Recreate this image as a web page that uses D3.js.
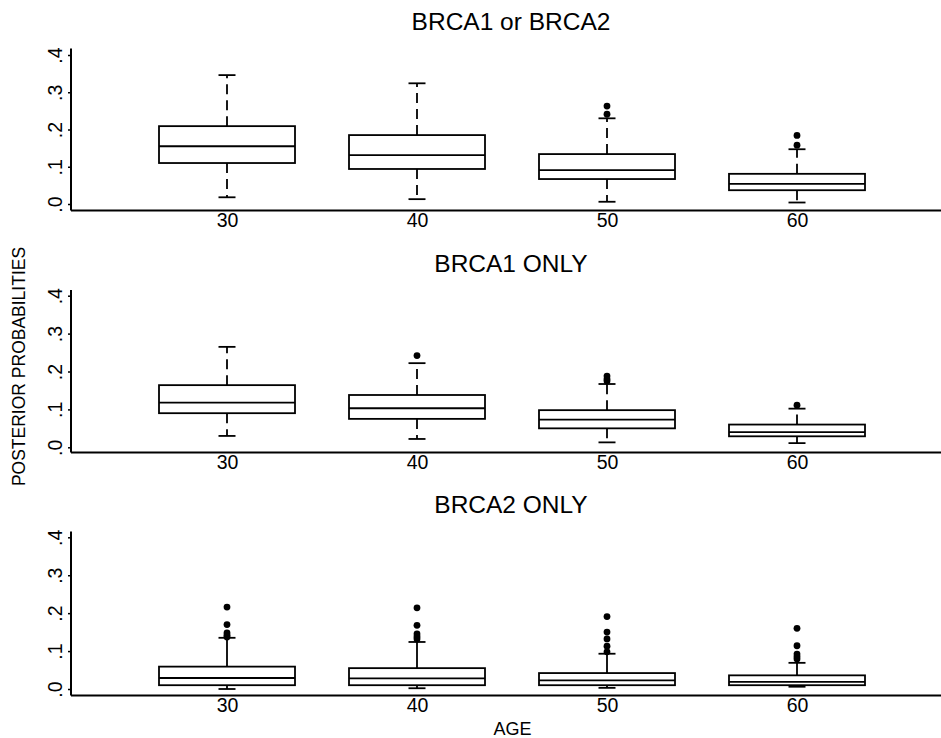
<!DOCTYPE html>
<html>
<head>
<meta charset="utf-8">
<script src="https://cdn.jsdelivr.net/npm/d3@7"></script>
<style>
  body { margin: 0; background: #fff; }
  svg { display: block; }
  text { font-family: "Liberation Sans", Arial, Helvetica, sans-serif; fill: #000; }
</style>
</head>
<body>
<svg id="chart" width="941" height="738"></svg>
<script>
// ---------- DATA ----------
const ages = [30, 40, 50, 60];
const panelTitles = ["BRCA1 or BRCA2", "BRCA1 ONLY", "BRCA2 ONLY"];
const yTicks = [0, 0.1, 0.2, 0.3, 0.4];
const yTickLabels = [".0", ".1", ".2", ".3", ".4"];
const yAxisTitle = "POSTERIOR PROBABILITIES";
const xAxisTitle = "AGE";

// BRCA1 or BRCA2
const eitherLow      = [0.018, 0.013, 0.006, 0.004];
const eitherQ1       = [0.110, 0.094, 0.067, 0.037];
const eitherMedian   = [0.155, 0.131, 0.091, 0.054];
const eitherQ3       = [0.209, 0.185, 0.134, 0.081];
const eitherHigh     = [0.346, 0.324, 0.230, 0.147];
const eitherOutliers = [[], [], [0.263, 0.241], [0.184, 0.158]];

// BRCA1 only
const brca1Low      = [0.030, 0.022, 0.013, 0.011];
const brca1Q1       = [0.090, 0.075, 0.050, 0.029];
const brca1Median   = [0.118, 0.103, 0.073, 0.040];
const brca1Q3       = [0.164, 0.138, 0.098, 0.060];
const brca1High     = [0.265, 0.222, 0.167, 0.102];
const brca1Outliers = [[], [0.242], [0.188, 0.180, 0.175], [0.111]];

// BRCA2 only
const brca2Low      = [0.000, 0.002, 0.003, 0.006];
const brca2Q1       = [0.010, 0.010, 0.010, 0.010];
const brca2Median   = [0.029, 0.028, 0.023, 0.019];
const brca2Q3       = [0.059, 0.055, 0.042, 0.036];
const brca2High     = [0.135, 0.124, 0.093, 0.069];
const brca2Outliers = [
  [0.216, 0.170, 0.148, 0.142, 0.137],
  [0.214, 0.168, 0.145, 0.138, 0.132],
  [0.191, 0.150, 0.132, 0.113, 0.098],
  [0.160, 0.114, 0.092, 0.085, 0.079]
];

// ---------- BUILD ----------
const panels = [
  { title: panelTitles[0], low: eitherLow, q1: eitherQ1, med: eitherMedian, q3: eitherQ3, high: eitherHigh, out: eitherOutliers, dashed: true },
  { title: panelTitles[1], low: brca1Low, q1: brca1Q1, med: brca1Median, q3: brca1Q3, high: brca1High, out: brca1Outliers, dashed: true },
  { title: panelTitles[2], low: brca2Low, q1: brca2Q1, med: brca2Median, q3: brca2Q3, high: brca2High, out: brca2Outliers, dashed: false }
];

const layout = [
  { y0: 204.0, y4: 55.0,  axisY: 210.5, top: 48.5,  titleY: 30 },
  { y0: 447.3, y4: 295.7, axisY: 452.5, top: 290.0, titleY: 272 },
  { y0: 689.0, y4: 537.3, axisY: 695.5, top: 531.5, titleY: 513 }
];

const xLeft = 71, xRight = 941;
const boxW = 136, capW = 17;
const ink = "#000";
const sw = 1.8;

const svg = d3.select("#chart");
const x = d3.scaleLinear().domain([30, 60]).range([227, 797]);

panels.forEach((p, pi) => {
  const L = layout[pi];
  const y = d3.scaleLinear().domain([0, 0.4]).range([L.y0, L.y4]);
  const g = svg.append("g");

  // title
  g.append("text")
    .attr("x", 511).attr("y", L.titleY)
    .attr("text-anchor", "middle")
    .style("font-size", "24.5px")
    .text(p.title);

  // y axis
  const yAxis = d3.axisLeft(y)
    .tickValues(yTicks)
    .tickFormat((d, i) => yTickLabels[i])
    .tickSize(3)
    .tickSizeOuter(0);
  const ya = g.append("g").attr("transform", `translate(${xLeft},0)`).call(yAxis);
  ya.select(".domain").remove();
  ya.selectAll(".tick line").attr("stroke", ink).attr("stroke-width", 1.5);
  ya.selectAll(".tick text")
    .attr("x", null).attr("dy", null)
    .attr("transform", "translate(-9,0) rotate(-90)")
    .attr("text-anchor", "middle")
    .style("font-size", "19.5px")
    .attr("font-family", null);
  g.append("line")
    .attr("x1", xLeft).attr("x2", xLeft)
    .attr("y1", L.top).attr("y2", L.axisY)
    .attr("stroke", ink).attr("stroke-width", 2);

  // x axis
  const xAxis = d3.axisBottom(x)
    .tickValues(ages)
    .tickFormat(d3.format("d"))
    .tickSize(0)
    .tickPadding(3);
  const xa = g.append("g").attr("transform", `translate(0,${L.axisY})`).call(xAxis);
  xa.select(".domain").remove();
  xa.selectAll(".tick text").style("font-size", "19.5px").attr("font-family", null);
  g.append("line")
    .attr("x1", xLeft).attr("x2", xRight)
    .attr("y1", L.axisY).attr("y2", L.axisY)
    .attr("stroke", ink).attr("stroke-width", 2);

  // boxes
  ages.forEach((age, i) => {
    const cx = x(age);
    const dash = p.dashed ? "10,6" : null;
    // upper whisker
    g.append("line")
      .attr("x1", cx).attr("x2", cx)
      .attr("y1", y(p.q3[i])).attr("y2", y(p.high[i]))
      .attr("stroke", ink).attr("stroke-width", sw)
      .attr("stroke-dasharray", dash);
    g.append("line")
      .attr("x1", cx - capW / 2).attr("x2", cx + capW / 2)
      .attr("y1", y(p.high[i])).attr("y2", y(p.high[i]))
      .attr("stroke", ink).attr("stroke-width", sw);
    // lower whisker
    g.append("line")
      .attr("x1", cx).attr("x2", cx)
      .attr("y1", y(p.q1[i])).attr("y2", y(p.low[i]))
      .attr("stroke", ink).attr("stroke-width", sw)
      .attr("stroke-dasharray", dash);
    g.append("line")
      .attr("x1", cx - capW / 2).attr("x2", cx + capW / 2)
      .attr("y1", y(p.low[i])).attr("y2", y(p.low[i]))
      .attr("stroke", ink).attr("stroke-width", sw);
    // box
    g.append("rect")
      .attr("x", cx - boxW / 2).attr("width", boxW)
      .attr("y", y(p.q3[i])).attr("height", y(p.q1[i]) - y(p.q3[i]))
      .attr("fill", "#fff").attr("stroke", ink).attr("stroke-width", sw);
    // median
    g.append("line")
      .attr("x1", cx - boxW / 2).attr("x2", cx + boxW / 2)
      .attr("y1", y(p.med[i])).attr("y2", y(p.med[i]))
      .attr("stroke", ink).attr("stroke-width", sw);
    // outliers
    g.selectAll(null).data(p.out[i]).enter().append("circle")
      .attr("cx", cx).attr("cy", d => y(d)).attr("r", 3.4)
      .attr("fill", ink);
  });
});

// axis titles
svg.append("text")
  .attr("transform", "translate(25,366.5) rotate(-90)")
  .attr("text-anchor", "middle")
  .style("font-size", "17.5px")
  .text(yAxisTitle);

svg.append("text")
  .attr("x", 512.5).attr("y", 735)
  .attr("text-anchor", "middle")
  .style("font-size", "18px")
  .text(xAxisTitle);
</script>
</body>
</html>
